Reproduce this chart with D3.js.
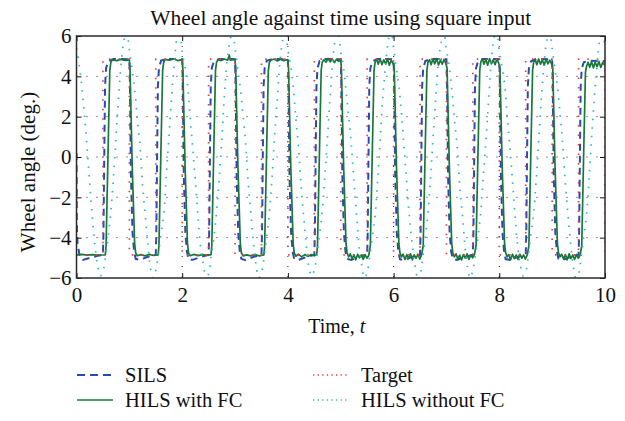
<!DOCTYPE html>
<html>
<head>
<meta charset="utf-8">
<script src="https://cdn.jsdelivr.net/npm/d3@7"></script>
<style>
  body { margin: 0; background: #fff; }
  text { font-family: "Liberation Serif", "Times New Roman", serif; fill: #111; }
</style>
</head>
<body>
<svg id="chart" width="625" height="421"></svg>
<script>
'use strict';

// ---- data ----
var xTicks = [0, 2, 4, 6, 8, 10];
var yTicks = [-6, -4, -2, 0, 2, 4, 6];

var seriesNames = ['SILS', 'HILS with FC', 'Target', 'HILS without FC'];

// square input: [time, angle]
var target = [
    [0, -4.85], [0.5, -4.85], [0.5, 4.85], [1, 4.85], [1, -4.85], [1.5, -4.85],
    [1.5, 4.85], [2, 4.85], [2, -4.85], [2.5, -4.85], [2.5, 4.85], [3, 4.85],
    [3, -4.85], [3.5, -4.85], [3.5, 4.85], [4, 4.85], [4, -4.85], [4.5, -4.85],
    [4.5, 4.85], [5, 4.85], [5, -4.85], [5.5, -4.85], [5.5, 4.85], [6, 4.85],
    [6, -4.85], [6.5, -4.85], [6.5, 4.85], [7, 4.85], [7, -4.85], [7.5, -4.85],
    [7.5, 4.85], [8, 4.85], [8, -4.85], [8.5, -4.85], [8.5, 4.85], [9, 4.85],
    [9, -4.85], [9.5, -4.85], [9.5, 4.85], [10, 4.85], [10, -4.85]
];

// SILS response: [time, angle]
var sils = [
    [0, 0.2], [0.005, -3.4], [0.02, -4.3], [0.06, -4.9], [0.12, -5.1], [0.25, -5.0], [0.4, -4.9], [0.5, -4.85],
    [0.51, -3.8], [0.525, 0], [0.54, 3.5], [0.56, 4.4], [0.6, 4.75], [0.7, 4.86], [1.0, 4.85],
    [1.01, 3.8], [1.03, -0.9], [1.06, -3.75], [1.09, -4.7], [1.12, -5.05], [1.2, -5.1], [1.35, -4.95], [1.5, -4.85],
    [1.51, -3.8], [1.525, 0], [1.54, 3.5], [1.56, 4.4], [1.6, 4.78], [1.7, 4.86], [2.0, 4.85],
    [2.01, 3.8], [2.03, -0.9], [2.06, -3.75], [2.09, -4.7], [2.12, -5.08], [2.2, -5.1], [2.35, -4.95], [2.5, -4.85],
    [2.51, -3.8], [2.525, 0], [2.54, 3.5], [2.56, 4.4], [2.6, 4.75], [2.7, 4.86], [3.0, 4.85],
    [3.01, 3.8], [3.03, -0.9], [3.06, -3.75], [3.09, -4.7], [3.12, -5.05], [3.2, -5.12], [3.35, -4.95], [3.5, -4.85],
    [3.51, -3.8], [3.525, 0], [3.54, 3.5], [3.56, 4.4], [3.6, 4.77], [3.7, 4.86], [4.0, 4.85],
    [4.01, 3.8], [4.03, -0.9], [4.06, -3.75], [4.09, -4.7], [4.12, -5.06], [4.2, -5.1], [4.35, -4.96], [4.5, -4.85],
    [4.51, -3.8], [4.525, 0], [4.54, 3.5], [4.56, 4.4], [4.6, 4.76], [4.7, 4.86], [5.0, 4.85],
    [5.01, 3.8], [5.03, -0.9], [5.06, -3.75], [5.09, -4.7], [5.12, -5.05], [5.2, -5.1], [5.35, -4.95], [5.5, -4.85],
    [5.51, -3.8], [5.525, 0], [5.54, 3.5], [5.56, 4.4], [5.6, 4.75], [5.7, 4.86], [6.0, 4.85],
    [6.01, 3.8], [6.03, -0.9], [6.06, -3.75], [6.09, -4.7], [6.12, -5.07], [6.2, -5.12], [6.35, -4.95], [6.5, -4.85],
    [6.51, -3.8], [6.525, 0], [6.54, 3.5], [6.56, 4.4], [6.6, 4.76], [6.7, 4.86], [7.0, 4.85],
    [7.01, 3.8], [7.03, -0.9], [7.06, -3.75], [7.09, -4.7], [7.12, -5.05], [7.2, -5.1], [7.35, -4.96], [7.5, -4.85],
    [7.51, -3.8], [7.525, 0], [7.54, 3.5], [7.56, 4.4], [7.6, 4.77], [7.7, 4.86], [8.0, 4.85],
    [8.01, 3.8], [8.03, -0.9], [8.06, -3.75], [8.09, -4.7], [8.12, -5.06], [8.2, -5.1], [8.35, -4.95], [8.5, -4.85],
    [8.51, -3.8], [8.525, 0], [8.54, 3.5], [8.56, 4.4], [8.6, 4.75], [8.7, 4.86], [9.0, 4.85],
    [9.01, 3.8], [9.03, -0.9], [9.06, -3.75], [9.09, -4.7], [9.12, -5.05], [9.2, -5.1], [9.35, -4.95], [9.5, -4.85],
    [9.51, -3.8], [9.525, 0], [9.54, 3.5], [9.56, 4.4], [9.6, 4.7], [9.7, 4.78], [10, 4.75]
];

// HILS with friction compensation: [time, angle]
var hilsFc = [
    [0, -4.85], [0.1, -4.83], [0.2, -4.87], [0.3, -4.84], [0.4, -4.86], [0.545, -4.85],
    [0.56, -4.4], [0.595, 0], [0.63, 4.3], [0.65, 4.7], [0.68, 4.82], [0.76, 4.78], [0.84, 4.84], [0.92, 4.79], [1.0, 4.82],
    [1.012, 4.4], [1.055, -0.5], [1.1, -4.3], [1.12, -4.75], [1.15, -4.9], [1.22, -4.84], [1.3, -4.9], [1.38, -4.83], [1.46, -4.88], [1.545, -4.85],
    [1.56, -4.4], [1.595, 0], [1.63, 4.3], [1.65, 4.7], [1.68, 4.84], [1.76, 4.8], [1.84, 4.86], [1.92, 4.78], [2.0, 4.83],
    [2.012, 4.4], [2.055, -0.5], [2.1, -4.3], [2.12, -4.75], [2.15, -4.9], [2.22, -4.83], [2.3, -4.89], [2.38, -4.84], [2.46, -4.88], [2.545, -4.84],
    [2.56, -4.4], [2.595, 0], [2.63, 4.3], [2.65, 4.7], [2.68, 4.82], [2.74, 4.78], [2.8, 4.86], [2.86, 4.8], [2.89, 5.05], [2.91, 4.8], [2.96, 4.84], [3.0, 4.8],
    [3.012, 4.4], [3.055, -0.5], [3.1, -4.3], [3.12, -4.75], [3.15, -4.9], [3.22, -4.85], [3.3, -4.9], [3.38, -4.84], [3.46, -4.9], [3.545, -4.85],
    [3.56, -4.4], [3.595, 0], [3.63, 4.3], [3.65, 4.7], [3.68, 4.8], [3.74, 4.86], [3.8, 4.76], [3.86, 4.85], [3.92, 4.78], [4.0, 4.83],
    [4.012, 4.4], [4.055, -0.5], [4.1, -4.3], [4.12, -4.75], [4.15, -4.92], [4.2, -4.82], [4.26, -4.95], [4.32, -4.84], [4.38, -4.93], [4.44, -4.83], [4.5, -4.9], [4.545, -4.85],
    [4.56, -4.4], [4.595, 0], [4.63, 4.3], [4.65, 4.7], [4.68, 4.82], [4.72, 4.7], [4.76, 4.88], [4.8, 4.72], [4.84, 4.86], [4.88, 4.68], [4.92, 4.85], [4.96, 4.74], [5.0, 4.82],
    [5.012, 4.4], [5.055, -0.5], [5.1, -4.3], [5.12, -4.75], [5.15, -4.95], [5.18, -4.8], [5.215, -5.05], [5.25, -4.85], [5.285, -5.1], [5.32, -4.82], [5.355, -5.0], [5.39, -4.86], [5.425, -5.08], [5.46, -4.84], [5.495, -5.02], [5.53, -4.88],
    [5.56, -4.4], [5.595, 0], [5.63, 4.3], [5.65, 4.7], [5.68, 4.85], [5.71, 4.6], [5.745, 4.88], [5.78, 4.58], [5.815, 4.82], [5.85, 4.62], [5.885, 4.86], [5.92, 4.55], [5.955, 4.8], [5.99, 4.65],
    [6.012, 4.4], [6.055, -0.5], [6.1, -4.3], [6.12, -4.75], [6.15, -4.95], [6.18, -4.82], [6.215, -5.08], [6.25, -4.84], [6.285, -5.04], [6.32, -4.8], [6.355, -5.1], [6.39, -4.85], [6.425, -5.02], [6.46, -4.82], [6.495, -5.06], [6.53, -4.86],
    [6.56, -4.4], [6.595, 0], [6.63, 4.3], [6.65, 4.7], [6.68, 4.82], [6.71, 4.58], [6.745, 4.86], [6.78, 4.62], [6.815, 4.88], [6.85, 4.56], [6.885, 4.8], [6.92, 4.6], [6.955, 4.85], [6.99, 4.62],
    [7.012, 4.4], [7.055, -0.5], [7.1, -4.3], [7.12, -4.75], [7.15, -4.95], [7.18, -4.8], [7.215, -5.06], [7.25, -4.86], [7.285, -5.1], [7.32, -4.84], [7.355, -5.02], [7.39, -4.8], [7.425, -5.08], [7.46, -4.86], [7.495, -5.0], [7.53, -4.84],
    [7.56, -4.4], [7.595, 0], [7.63, 4.3], [7.65, 4.7], [7.68, 4.86], [7.71, 4.6], [7.745, 4.84], [7.78, 4.55], [7.815, 4.88], [7.85, 4.62], [7.885, 4.82], [7.92, 4.58], [7.955, 4.86], [7.99, 4.64],
    [8.012, 4.4], [8.055, -0.5], [8.1, -4.3], [8.12, -4.75], [8.15, -4.95], [8.18, -4.84], [8.215, -5.1], [8.25, -4.82], [8.285, -5.04], [8.32, -4.86], [8.355, -5.08], [8.39, -4.82], [8.425, -5.02], [8.46, -4.86], [8.495, -5.06], [8.53, -4.84],
    [8.56, -4.4], [8.595, 0], [8.63, 4.3], [8.65, 4.7], [8.68, 4.84], [8.71, 4.58], [8.745, 4.86], [8.78, 4.6], [8.815, 4.82], [8.85, 4.55], [8.885, 4.86], [8.92, 4.62], [8.955, 4.8], [8.99, 4.6],
    [9.012, 4.4], [9.055, -0.5], [9.1, -4.3], [9.12, -4.75], [9.15, -4.95], [9.18, -4.82], [9.215, -5.06], [9.25, -4.84], [9.285, -5.1], [9.32, -4.8], [9.355, -5.04], [9.39, -4.86], [9.425, -5.08], [9.46, -4.84], [9.495, -5.02], [9.53, -4.86],
    [9.56, -4.4], [9.595, 0], [9.63, 4.2], [9.65, 4.5], [9.68, 4.7], [9.71, 4.45], [9.745, 4.72], [9.78, 4.42], [9.815, 4.7], [9.85, 4.48], [9.885, 4.74], [9.92, 4.44], [9.955, 4.68], [10, 4.55]
];

// HILS without friction compensation, sampled every 0.05 s from t = 0
var noFcStep = 0.05;
var hilsNoFc = [
    5.4, 4.6, 3.5, 2.1, 0.5, -1.3, -3.0, -4.4, -5.4, -5.9, -5.7, -4.9, -3.9, -2.7, -1.0, 1.1, 3.1, 4.8, 5.8, 6.2,
    5.3, 4.4, 3.4, 1.9, 0.6, -1.4, -2.9, -4.3, -5.5, -6.0, -5.6, -4.8, -3.8, -2.9, -0.9, 1.0, 3.0, 4.6, 5.9, 6.3,
    5.2, 4.5, 3.6, 2.0, 0.4, -1.2, -3.0, -4.5, -5.3, -5.9, -5.8, -4.9, -4.0, -2.7, -1.1, 0.9, 3.1, 4.8, 5.7, 6.2,
    5.4, 4.4, 3.4, 2.1, 0.7, -1.3, -2.8, -4.3, -5.4, -6.0, -5.7, -5.0, -3.9, -2.8, -1.0, 1.1, 2.9, 4.7, 5.8, 6.3,
    5.3, 4.6, 3.5, 1.9, 0.5, -1.4, -3.0, -4.4, -5.5, -5.9, -5.6, -4.8, -3.8, -2.7, -0.9, 1.0, 3.0, 4.8, 5.9, 6.2,
    5.2, 4.5, 3.3, 2.0, 0.6, -1.2, -2.9, -4.5, -5.4, -6.0, -5.7, -4.9, -3.9, -2.9, -1.1, 1.0, 3.1, 4.6, 5.8, 6.3,
    5.4, 4.4, 3.5, 2.1, 0.4, -1.3, -3.0, -4.3, -5.3, -5.9, -5.8, -5.0, -4.0, -2.8, -1.0, 1.1, 3.0, 4.7, 5.7, 6.2,
    5.3, 4.6, 3.4, 1.9, 0.6, -1.4, -2.8, -4.4, -5.5, -6.0, -5.6, -4.8, -3.9, -2.7, -0.9, 0.9, 2.9, 4.8, 5.9, 6.3,
    5.2, 4.5, 3.6, 2.0, 0.5, -1.2, -3.0, -4.5, -5.4, -5.9, -5.7, -4.9, -3.8, -2.8, -1.1, 1.0, 3.1, 4.7, 5.8, 6.2,
    5.4, 4.4, 3.5, 2.1, 0.6, -1.3, -2.9, -4.3, -5.4, -6.0, -5.8, -4.9, -3.9, -2.9, -1.0, 1.1, 3.0, 4.6, 5.8, 6.3,
    5.4
];

// ---- drawing ----
var svg = d3.select('#chart');

var plotLeft = 76.5, plotRight = 605, plotTop = 36, plotBottom = 278;

var x = d3.scaleLinear().domain([0, 10]).range([plotLeft, plotRight]);
var y = d3.scaleLinear().domain([-6, 6]).range([plotBottom, plotTop]);

var colors = {
    sils: '#2b48b4',
    fc: '#17783a',
    target: '#f03a3a',
    noFc: '#22baba'
};

svg.append('text')
    .attr('x', (plotLeft + plotRight) / 2)
    .attr('y', 25)
    .attr('text-anchor', 'middle')
    .style('font-size', '21.5px')
    .text('Wheel angle against time using square input');

svg.append('defs').append('clipPath')
    .attr('id', 'plotclip')
  .append('rect')
    .attr('x', plotLeft)
    .attr('y', plotTop)
    .attr('width', plotRight - plotLeft)
    .attr('height', plotBottom - plotTop);

// dotted grid
var grid = svg.append('g').attr('class', 'grid');
grid.selectAll('line.gx')
    .data(xTicks.slice(1, -1))
    .enter().append('line')
    .attr('x1', function(d) { return x(d); })
    .attr('x2', function(d) { return x(d); })
    .attr('y1', plotTop)
    .attr('y2', plotBottom);
grid.selectAll('line.gy')
    .data(yTicks.slice(1, -1))
    .enter().append('line')
    .attr('y1', function(d) { return y(d); })
    .attr('y2', function(d) { return y(d); })
    .attr('x1', plotLeft)
    .attr('x2', plotRight);
grid.selectAll('line')
    .style('stroke', '#222')
    .style('stroke-width', 1)
    .style('stroke-dasharray', '1,9');

var line = d3.line()
    .x(function(d) { return x(d[0]); })
    .y(function(d) { return y(d[1]); });

var smooth = d3.line()
    .x(function(d, i) { return x(i * noFcStep); })
    .y(function(d) { return y(d); })
    .curve(d3.curveCatmullRom);

var plot = svg.append('g').attr('clip-path', 'url(#plotclip)');

plot.append('path')
    .datum(sils)
    .attr('d', line)
    .style('fill', 'none')
    .style('stroke', colors.sils)
    .style('stroke-width', 2)
    .style('stroke-dasharray', '7,5');

plot.append('path')
    .datum(hilsFc)
    .attr('d', line)
    .style('fill', 'none')
    .style('stroke', colors.fc)
    .style('stroke-width', 1.7)
    .style('stroke-linejoin', 'round');

plot.append('path')
    .datum(target)
    .attr('d', line)
    .style('fill', 'none')
    .style('stroke', colors.target)
    .style('stroke-width', 1.7)
    .style('stroke-dasharray', '1.5,8');

plot.append('path')
    .datum(hilsNoFc)
    .attr('d', smooth)
    .style('fill', 'none')
    .style('stroke', colors.noFc)
    .style('stroke-width', 1.7)
    .style('stroke-dasharray', '1.5,7');

// axes with inward ticks on all four sides
function styleAxis(g) {
    g.select('.domain').remove();
    g.selectAll('.tick line').style('stroke', '#111').style('stroke-width', 1);
    g.selectAll('.tick text')
        .style('font-family', '"Liberation Serif", "Times New Roman", serif')
        .style('font-size', '21px')
        .style('fill', '#111');
}

svg.append('g')
    .attr('transform', 'translate(0,' + plotBottom + ')')
    .call(d3.axisBottom(x).tickValues(xTicks).tickSizeInner(-5).tickSizeOuter(0).tickPadding(9))
    .call(styleAxis);

svg.append('g')
    .attr('transform', 'translate(0,' + plotTop + ')')
    .call(d3.axisTop(x).tickValues(xTicks).tickSizeInner(-5).tickSizeOuter(0).tickFormat(''))
    .call(styleAxis);

svg.append('g')
    .attr('transform', 'translate(' + plotLeft + ',0)')
    .call(d3.axisLeft(y).tickValues(yTicks).tickSizeInner(-5).tickSizeOuter(0).tickPadding(5))
    .call(styleAxis);

svg.append('g')
    .attr('transform', 'translate(' + plotRight + ',0)')
    .call(d3.axisRight(y).tickValues(yTicks).tickSizeInner(-5).tickSizeOuter(0).tickFormat(''))
    .call(styleAxis);

svg.append('rect')
    .attr('x', plotLeft)
    .attr('y', plotTop)
    .attr('width', plotRight - plotLeft)
    .attr('height', plotBottom - plotTop)
    .style('fill', 'none')
    .style('stroke', '#2a2a2a')
    .style('stroke-width', 1.5);

// axis titles
var xLabel = svg.append('text')
    .attr('x', (plotLeft + plotRight) / 2 - 4)
    .attr('y', 333)
    .attr('text-anchor', 'middle')
    .style('font-size', '20px');
xLabel.append('tspan').text('Time, ');
xLabel.append('tspan').style('font-style', 'italic').text('t');

svg.append('text')
    .attr('transform', 'translate(35,172) rotate(-90)')
    .attr('text-anchor', 'middle')
    .style('font-size', '21px')
    .text('Wheel angle (deg.)');

// legend, two columns
var legendItems = [
    {name: seriesNames[0], color: colors.sils, dash: '8,5', width: 2, col: 0, row: 0},
    {name: seriesNames[1], color: colors.fc, dash: null, width: 1.7, col: 0, row: 1},
    {name: seriesNames[2], color: colors.target, dash: '1.3,3.3', width: 1.5, col: 1, row: 0},
    {name: seriesNames[3], color: colors.noFc, dash: '1.3,3.3', width: 1.5, col: 1, row: 1}
];
var legendX = [77, 313], legendY = [375, 400];

var legend = svg.append('g').attr('class', 'legend');
var items = legend.selectAll('g.item')
    .data(legendItems)
    .enter().append('g')
    .attr('class', 'item')
    .attr('transform', function(d) {
        return 'translate(' + legendX[d.col] + ',' + legendY[d.row] + ')';
    });

items.append('line')
    .attr('x1', 0)
    .attr('x2', 36)
    .style('stroke', function(d) { return d.color; })
    .style('stroke-width', function(d) { return d.width; })
    .style('stroke-dasharray', function(d) { return d.dash; });

items.append('text')
    .attr('x', 48)
    .attr('y', 7)
    .style('font-size', '20.5px')
    .text(function(d) { return d.name; });
</script>
</body>
</html>
